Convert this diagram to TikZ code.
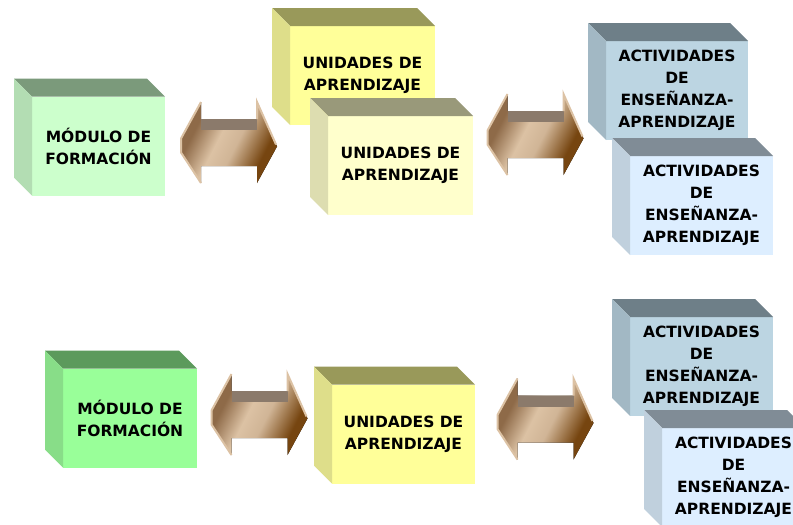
\documentclass[tikz,border=0pt]{standalone}
\usepackage{fontspec}
\setmainfont{DejaVu Sans}
\usetikzlibrary{calc}

\definecolor{modfront}{HTML}{CCFFCC}
\definecolor{modtop}{HTML}{7B9A7B}
\definecolor{modside}{HTML}{B3DDB3}
\definecolor{modfrontb}{HTML}{99FF99}
\definecolor{modtopb}{HTML}{5C9A5C}
\definecolor{modsideb}{HTML}{88DD88}
\definecolor{unifront}{HTML}{FFFF99}
\definecolor{unitop}{HTML}{99995A}
\definecolor{uniside}{HTML}{DEDE8A}
\definecolor{unifrontb}{HTML}{FFFFCC}
\definecolor{unitopb}{HTML}{99997A}
\definecolor{unisideb}{HTML}{DDDDB0}
\definecolor{actfront}{HTML}{BCD5E2}
\definecolor{acttop}{HTML}{6E7F88}
\definecolor{actside}{HTML}{A2B8C4}
\definecolor{actfrontb}{HTML}{DDEEFF}
\definecolor{acttopb}{HTML}{808C96}
\definecolor{actsideb}{HTML}{C0D0DD}
\definecolor{arrowdark}{HTML}{764510}
\definecolor{arrowmid}{HTML}{8E6A48}
\definecolor{arrowlight}{HTML}{DCC2A4}
\definecolor{arrowband}{HTML}{8B7A6B}
\pgfdeclarehorizontalshading{arrowshade}{100bp}{color(0bp)=(arrowmid); color(30bp)=(arrowmid);
  color(44bp)=(arrowlight); color(54bp)=(arrowlight!85!arrowmid); color(70bp)=(arrowdark); color(100bp)=(arrowdark)}

\begin{document}
\begin{tikzpicture}[x=1pt, y=-1pt,
  cube/.style={minimum height=99, inner sep=0pt, outer sep=0pt, align=center,
    font=\bfseries\fontsize{15.5}{22}\selectfont},
  bevel/.style={draw=arrowlight, line width=2pt, line join=miter},
  dblarrow/.pic={
    \fill[shading=arrowshade, shading angle=-27]
      (-48,-4) -- (-28,-40.5) -- (-28,-23.5) -- (28,-23.5) -- (28,-40.5) -- (48,4)
      -- (28,40.5) -- (28,23.5) -- (-28,23.5) -- (-28,40.5) -- (-48,10) -- cycle;
    \fill[arrowband] (-28,-23.5) rectangle (28,-12.5);
    \draw[bevel] (-28,-40.5) -- (-48,-4) -- (-48,10) -- (-28,40.5);
    \draw[bevel] (28,-23.5) -- (28,-40.5) -- (47,2);
  }]
  \clip (0,0) rectangle (793,525);

  % top row
  \node[cube, fill=modfront, minimum width=133] (mod1) at (98.5,146) {MÓDULO DE\\FORMACIÓN};
  \fill[modtop] (mod1.north west) -- (mod1.north east) -- ++(-18,-18) -- ($(mod1.north west)+(-18,-18)$) -- cycle;
  \fill[modside] (mod1.north west) -- (mod1.south west) -- ++(-18,-18) -- ($(mod1.north west)+(-18,-18)$) -- cycle;

  \node[cube, fill=unifront, minimum width=145] (uni1) at (362.5,75.5) {UNIDADES DE\\APRENDIZAJE};
  \fill[unitop] (uni1.north west) -- (uni1.north east) -- ++(-18,-18) -- ($(uni1.north west)+(-18,-18)$) -- cycle;
  \fill[uniside] (uni1.north west) -- (uni1.south west) -- ++(-18,-18) -- ($(uni1.north west)+(-18,-18)$) -- cycle;

  \node[cube, fill=unifrontb, minimum width=145] (uni2) at (400.5,165.5) {UNIDADES DE\\APRENDIZAJE};
  \fill[unitopb] (uni2.north west) -- (uni2.north east) -- ++(-18,-18) -- ($(uni2.north west)+(-18,-18)$) -- cycle;
  \fill[unisideb] (uni2.north west) -- (uni2.south west) -- ++(-18,-18) -- ($(uni2.north west)+(-18,-18)$) -- cycle;

  \node[cube, fill=actfront, minimum width=142] (act1) at (677,90.5) {ACTIVIDADES\\DE\\ENSEÑANZA-\\APRENDIZAJE};
  \fill[acttop] (act1.north west) -- (act1.north east) -- ++(-18,-18) -- ($(act1.north west)+(-18,-18)$) -- cycle;
  \fill[actside] (act1.north west) -- (act1.south west) -- ++(-18,-18) -- ($(act1.north west)+(-18,-18)$) -- cycle;

  \node[cube, fill=actfrontb, minimum width=143] (act2) at (701.5,205.5) {ACTIVIDADES\\DE\\ENSEÑANZA-\\APRENDIZAJE};
  \fill[acttopb] (act2.north west) -- (act2.north east) -- ++(-18,-18) -- ($(act2.north west)+(-18,-18)$) -- cycle;
  \fill[actsideb] (act2.north west) -- (act2.south west) -- ++(-18,-18) -- ($(act2.north west)+(-18,-18)$) -- cycle;

  \pic at (229,142.5) {dblarrow};
  \pic at (535.5,134.5) {dblarrow};

  % bottom row
  \node[cube, fill=modfrontb, minimum width=134] (mod2) at (130,418) {MÓDULO DE\\FORMACIÓN};
  \fill[modtopb] (mod2.north west) -- (mod2.north east) -- ++(-18,-18) -- ($(mod2.north west)+(-18,-18)$) -- cycle;
  \fill[modsideb] (mod2.north west) -- (mod2.south west) -- ++(-18,-18) -- ($(mod2.north west)+(-18,-18)$) -- cycle;

  \node[cube, fill=unifront, minimum width=143] (uni3) at (403.5,434) {UNIDADES DE\\APRENDIZAJE};
  \fill[unitop] (uni3.north west) -- (uni3.north east) -- ++(-18,-18) -- ($(uni3.north west)+(-18,-18)$) -- cycle;
  \fill[uniside] (uni3.north west) -- (uni3.south west) -- ++(-18,-18) -- ($(uni3.north west)+(-18,-18)$) -- cycle;

  \node[cube, fill=actfront, minimum width=143] (act3) at (701.5,366.5) {ACTIVIDADES\\DE\\ENSEÑANZA-\\APRENDIZAJE};
  \fill[acttop] (act3.north west) -- (act3.north east) -- ++(-18,-18) -- ($(act3.north west)+(-18,-18)$) -- cycle;
  \fill[actside] (act3.north west) -- (act3.south west) -- ++(-18,-18) -- ($(act3.north west)+(-18,-18)$) -- cycle;

  \node[cube, fill=actfrontb, minimum width=143] (act4) at (733.5,477.5) {ACTIVIDADES\\DE\\ENSEÑANZA-\\APRENDIZAJE};
  \fill[acttopb] (act4.north west) -- (act4.north east) -- ++(-18,-18) -- ($(act4.north west)+(-18,-18)$) -- cycle;
  \fill[actsideb] (act4.north west) -- (act4.south west) -- ++(-18,-18) -- ($(act4.north west)+(-18,-18)$) -- cycle;

  \pic at (259.5,414.5) {dblarrow};
  \pic at (545.5,419) {dblarrow};
\end{tikzpicture}
\end{document}
